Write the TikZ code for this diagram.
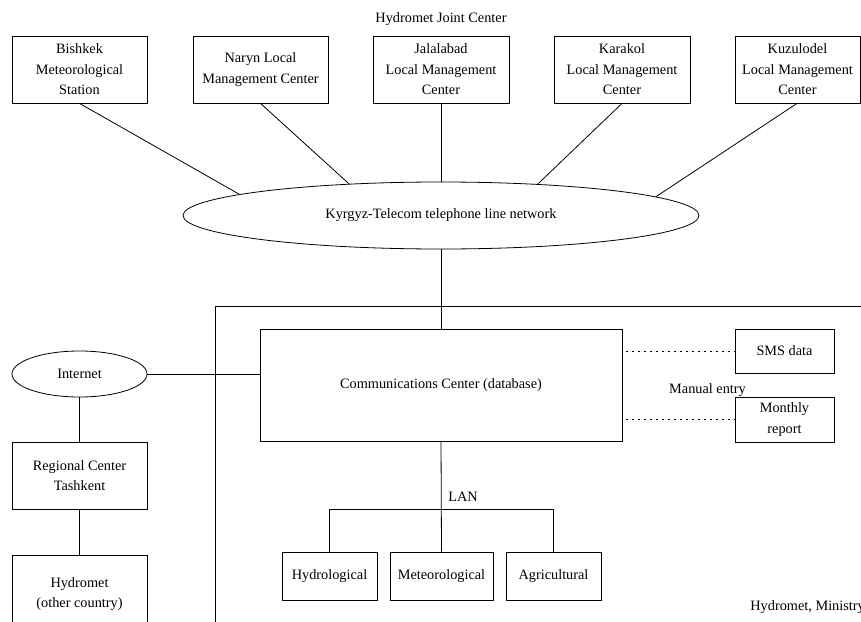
\documentclass[tikz,border=0pt]{standalone}
\usepackage{fontspec}
\setmainfont{Liberation Serif}
\usetikzlibrary{shapes.geometric}
\begin{document}
\begin{tikzpicture}[x=1pt,y=-1pt,
  line width=0.8pt,
  every node/.style={font=\fontsize{14.3}{20.5}\selectfont, inner sep=0pt, align=center},
  box/.style={draw, rectangle, minimum width=#1},
  box/.default=135pt,
  oval/.style={draw, ellipse},
  link/.style={draw},
  dotlink/.style={draw, dash pattern=on 1.2pt off 4.8pt, shorten <=4pt}]
\useasboundingbox (0,0) rectangle (861,621);

% title of the upper group
\node (joint) at (441,19) {Hydromet Joint Center};

% stations and local management centres
\node[box, minimum height=67pt] (bish) at (79.5,69.5) {Bishkek\\Meteorological\\Station};
\node[box, minimum height=67pt] (naryn) at (260.5,69.5) {Naryn Local\\Management Center};
\node[box=136pt, minimum height=67pt] (jala) at (441,69.5) {Jalalabad\\Local Management\\Center};
\node[box=136pt, minimum height=67pt] (kara) at (622,69.5) {Karakol\\Local Management\\Center};
\node[box=125pt, minimum height=67pt] (kuzu) at (797.5,69.5) {Kuzulodel\\Local Management\\Center};

% telephone network
\node[oval, minimum width=516pt, minimum height=67pt] (tel) at (441,215.5) {Kyrgyz-Telecom telephone line network};

\draw[link] (bish.south) -- (tel.174.2);
\draw[link] (naryn.south) -- (tel.161);
\draw[link] (jala.south) -- (tel.north);
\draw[link] (kara.south) -- (tel.18.8);
\draw[link] ([xshift=-0.5pt]kuzu.south) -- (tel.5.6);

% Hydromet, Ministry frame
\draw (215,640) -- (215,306) -- (880,306);
\node[anchor=west] (ministry) at (750,607) {Hydromet, Ministry};

% communications centre
\node[box=362pt, minimum height=112pt] (comm) at (441,385) {Communications Center (database)};
\draw[link] (tel.south) -- (comm.north);

% external data sources
\node[box=99pt, minimum height=44pt] (sms) at (784.5,351) {SMS data};
\node[box=99pt, minimum height=45pt] (monthly) at (784.5,419.5) {Monthly\\report};
\node (manual) at (707.5,390) {Manual entry};
\draw[dotlink] (sms.west -| comm.east) -- (sms.west);
\draw[dotlink] (monthly.west -| comm.east) -- (monthly.west);

% internet branch
\node[oval, minimum width=135pt, minimum height=46pt] (inet) at (79.5,374) {Internet};
\node[box, minimum height=67pt] (tash) at (79.5,475.5) {Regional Center\\Tashkent};
\node[box, minimum height=78pt] (other) at (79.5,594) {Hydromet\\(other country)};
\draw[link] (inet.east) -- (inet.east -| comm.west);
\draw[link] (inet.south) -- (tash.north);
\draw[link] (tash.south) -- (other.north);

% LAN
\node[box=95pt, minimum height=48pt] (hydro) at (329.5,576) {Hydrological};
\node[box=103pt, minimum height=48pt] (meteo) at (441.5,576) {Meteorological};
\node[box=95pt, minimum height=48pt] (agri) at (553.5,576) {Agricultural};
\coordinate (bus) at (441,509);
\node (lan) at (463,497) {LAN};
\draw[link] (comm.south) -- (meteo.north);
\draw[link] (hydro.north) -- (hydro.north |- bus) -- (agri.north |- bus) -- (agri.north);
\end{tikzpicture}
\end{document}
